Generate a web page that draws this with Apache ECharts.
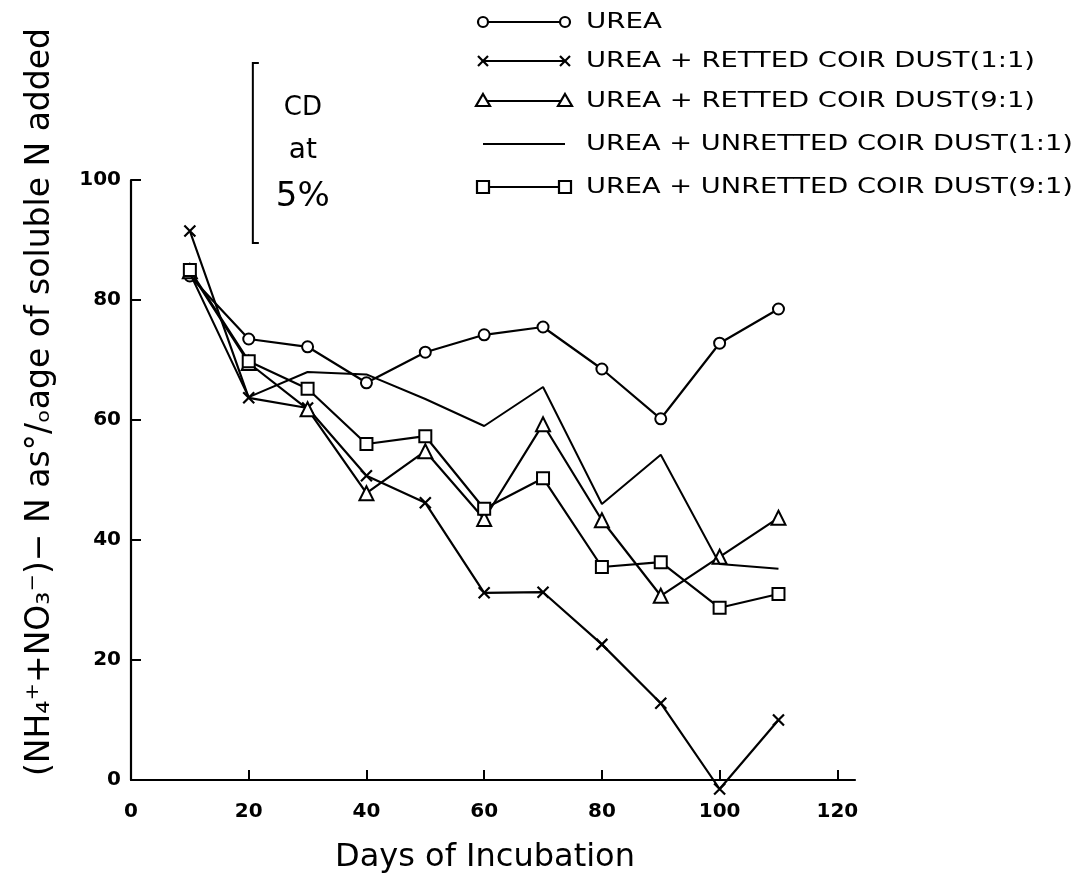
<!DOCTYPE html>
<html><head><meta charset="utf-8">
<script src="https://cdn.jsdelivr.net/npm/echarts@6/dist/echarts.min.js"></script>
<style>html,body{margin:0;padding:0;background:#fff}#c{width:1080px;height:889px}</style>
</head><body><div id="c"></div>
<script>
// ---- data ----
const days = [10, 20, 30, 40, 50, 60, 70, 80, 90, 100, 110];
const urea       = [84, 73.5, 72.2, 66.2, 71.3, 74.2, 75.5, 68.5, 60.2, 72.8, 78.5];
const retted11   = [91.5, 63.7, 62, 50.7, 46.2, 31.2, 31.3, 22.6, 12.8, -1.5, 10];
const retted91   = [84.8, 69.5, 61.8, 47.8, 54.8, 43.5, 59.3, 43.3, 30.7, 37.2, 43.7];
const unretted11 = [84.5, 63.8, 68, 67.6, 63.5, 59, 65.5, 46, 54.2, 36, 35.2];
const unretted91 = [85, 69.8, 65.2, 56, 57.3, 45.2, 50.3, 35.5, 36.3, 28.7, 31];
const seriesNames = [
  'UREA',
  'UREA + RETTED COIR DUST(1:1)',
  'UREA + RETTED COIR DUST(9:1)',
  'UREA + UNRETTED COIR DUST(1:1)',
  'UREA + UNRETTED COIR DUST(9:1)'
];
const xTicks = [0, 20, 40, 60, 80, 100, 120];
const yTicks = [0, 20, 40, 60, 80, 100];
const cdValue = 30;       // critical difference at 5%
const cdLabel = ['CD', 'at', '5%'];
const xTitle = 'Days of Incubation';
const yTitle = '(NH\u2084\u207A+NO\u2083\u207B)\u2212 N as\u00B0/\u2092age of soluble N added';

// ---- styling / layout ----
const FONT = '"DejaVu Sans", sans-serif';
const kinds = ['circle', 'cross', 'triangle', 'none', 'rect'];
const symMap = {
  circle:   {symbol: 'emptyCircle', size: 11},
  cross:    {symbol: 'path://M0,0L10,10M10,0L0,10', size: 11},
  triangle: {symbol: 'emptyTriangle', size: 14},
  none:     {symbol: 'none', size: 0},
  rect:     {symbol: 'emptyRect', size: 12}
};
const allVals = [urea, retted11, retted91, unretted11, unretted91];

const chart = echarts.init(document.getElementById('c'));

const series = allVals.map((vals, i) => ({
  name: seriesNames[i],
  type: 'line',
  data: days.map((d, j) => [d, vals[j]]),
  symbol: symMap[kinds[i]].symbol,
  symbolSize: symMap[kinds[i]].size,
  showSymbol: kinds[i] !== 'none',
  clip: false,
  animation: false,
  lineStyle: {color: '#000', width: kinds[i] === 'none' ? 2 : 2.2},
  itemStyle: {color: '#000', borderColor: '#000', borderWidth: 2.2},
  emphasis: {disabled: true},
  z: 2 + i
}));

chart.setOption({
  backgroundColor: '#fff',
  animation: false,
  grid: {left: 131, top: 180, right: 225, bottom: 109},
  xAxis: {
    type: 'value', min: 0, max: 123,
    axisLine: {show: true, lineStyle: {color: '#000', width: 2.2}},
    axisTick: {show: true, inside: true, length: 10, customValues: xTicks, lineStyle: {color: '#000', width: 2}},
    axisLabel: {customValues: xTicks, margin: 22, fontSize: 20, fontWeight: 'bold', color: '#000', fontFamily: FONT},
    splitLine: {show: false},
    name: xTitle, nameLocation: 'middle', nameGap: 62,
    nameTextStyle: {fontSize: 32, color: '#000', fontFamily: FONT, padding: [0, 16, 0, 0]}
  },
  yAxis: {
    type: 'value', min: 0, max: 100, interval: 20,
    axisLine: {show: true, lineStyle: {color: '#000', width: 2.2}},
    axisTick: {show: true, inside: true, length: 10, lineStyle: {color: '#000', width: 2}},
    axisLabel: {margin: 10, fontSize: 20, fontWeight: 'bold', color: '#000', fontFamily: FONT},
    splitLine: {show: false}
  },
  series: series
});

// ---- annotations: legend, CD bar, y title ----
function symGraphic(kind, cx, cy) {
  const st = {fill: '#fff', stroke: '#000', lineWidth: 2.2};
  if (kind === 'circle') return [{type: 'circle', shape: {cx, cy, r: 5}, style: st}];
  if (kind === 'rect') return [{type: 'rect', shape: {x: cx - 6, y: cy - 6, width: 12, height: 12}, style: st}];
  if (kind === 'triangle') return [{type: 'polygon', shape: {points: [[cx, cy - 7], [cx + 7, cy + 5], [cx - 7, cy + 5]]}, style: st}];
  if (kind === 'cross') return [
    {type: 'line', shape: {x1: cx - 5, y1: cy - 5, x2: cx + 5, y2: cy + 5}, style: {stroke: '#000', lineWidth: 2.2}},
    {type: 'line', shape: {x1: cx + 5, y1: cy - 5, x2: cx - 5, y2: cy + 5}, style: {stroke: '#000', lineWidth: 2.2}}
  ];
  return [];
}
const legX0 = 483, legX1 = 565, legTextX = 586;
const legRowY = [22, 61, 101, 144, 187];
const legEndX = [662, 1035, 1035, 1073, 1073];
const LEG_FONT = '22px ' + FONT;
const mctx = document.createElement('canvas').getContext('2d');
mctx.font = LEG_FONT;
const graphics = [];
seriesNames.forEach((nm, i) => {
  const y = legRowY[i];
  graphics.push({type: 'line', shape: {x1: legX0, y1: y, x2: legX1, y2: y}, style: {stroke: '#000', lineWidth: 2}, z: 10});
  symGraphic(kinds[i], legX0, y).concat(symGraphic(kinds[i], legX1, y)).forEach(g => { g.z = 11; graphics.push(g); });
  const w = mctx.measureText(nm).width;
  const sx = (legEndX[i] - legTextX) / w;
  graphics.push({type: 'text', x: legTextX, y: y, scaleX: sx, z: 11,
    style: {text: nm, font: LEG_FONT, fill: '#000', verticalAlign: 'middle'}});
});

// CD bar drawn through the chart's own scale
const cdX = 20.7, cdTop = 119.5;
const pTop = chart.convertToPixel({gridIndex: 0}, [cdX, cdTop]);
const pBot = chart.convertToPixel({gridIndex: 0}, [cdX, cdTop - cdValue]);
graphics.push({type: 'polyline', z: 10,
  shape: {points: [[pTop[0] + 6, pTop[1]], [pTop[0], pTop[1]], [pBot[0], pBot[1]], [pBot[0] + 6, pBot[1]]]},
  style: {stroke: '#000', lineWidth: 2, fill: null}});
const cdSizes = [26, 28, 34];
const cdDy = [45, 88, 134];
cdLabel.forEach((t, k) => {
  graphics.push({type: 'text', x: pTop[0] + 50, y: pTop[1] + cdDy[k], z: 10,
    style: {text: t, font: cdSizes[k] + 'px ' + FONT, fill: '#000', align: 'center', verticalAlign: 'middle'}});
});

// y-axis title, rotated
graphics.push({type: 'text', x: 40, y: 402, rotation: Math.PI / 2, z: 10,
  style: {text: yTitle, font: '33px ' + FONT, fill: '#000', align: 'center', verticalAlign: 'middle'}});

chart.setOption({graphic: graphics});
</script>
</body></html>
